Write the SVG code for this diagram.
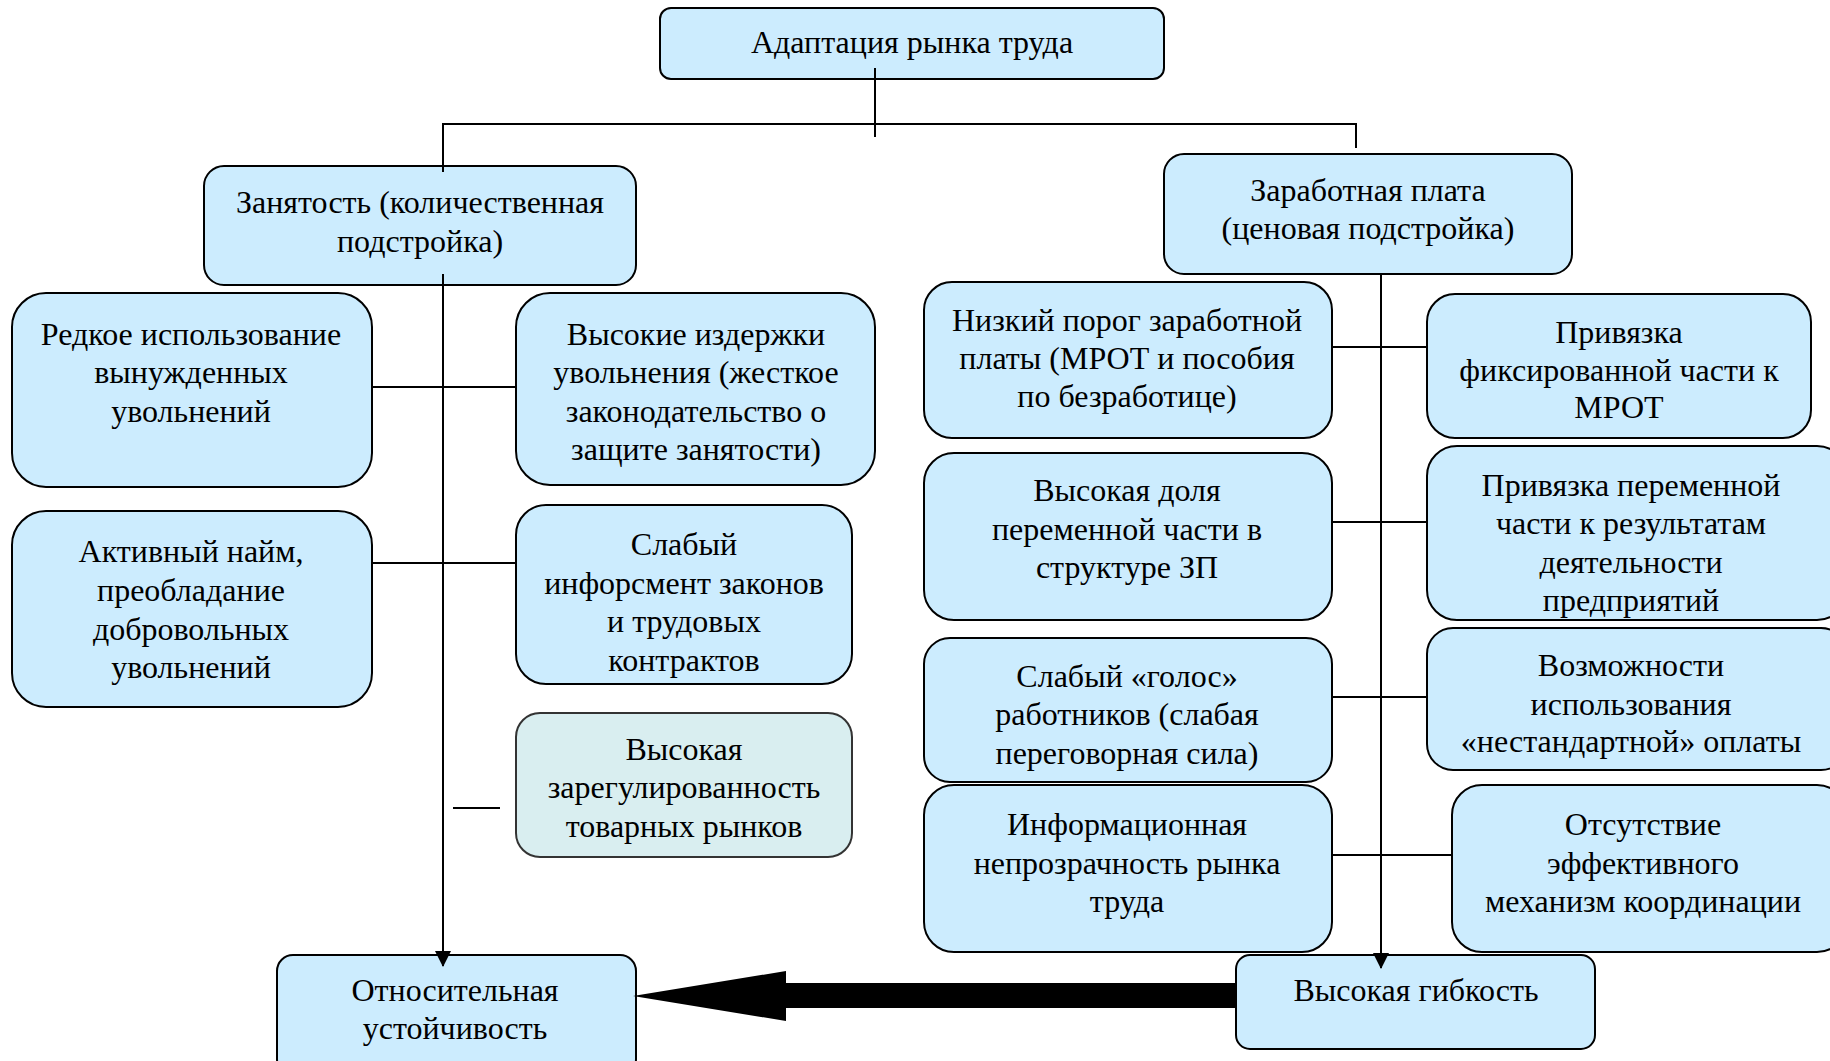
<svg xmlns="http://www.w3.org/2000/svg" width="1830" height="1061" viewBox="0 0 1830 1061">
<style>
.box{fill:#CCECFE;stroke:#000;stroke-width:2}
.box2{fill:#D9EEF0;stroke:#333;stroke-width:2}
text{font-family:"Liberation Serif","Times New Roman",serif;font-size:32px;fill:#000;text-anchor:middle}
.ln{stroke:#000;stroke-width:2;fill:none}
</style>
<defs>
<marker id="ah" viewBox="0 0 16 16" refX="15" refY="8" markerWidth="16" markerHeight="16" markerUnits="userSpaceOnUse" orient="auto">
<path d="M0,0 L16,8 L0,16 Z" fill="#000"/>
</marker>
</defs>
<rect width="1830" height="1061" fill="#fff"/>

<g id="n-top">
<rect class="box" x="660" y="8" width="504" height="71" rx="11"/>
<text x="912" y="53">Адаптация рынка труда</text>
</g>
<g id="n-zan">
<rect class="box" x="204" y="166" width="432" height="119" rx="20"/>
<text x="420" y="213">Занятость (количественная</text>
<text x="420" y="252">подстройка)</text>
</g>
<g id="n-zp">
<rect class="box" x="1164" y="154" width="408" height="120" rx="20"/>
<text x="1368" y="201">Заработная плата</text>
<text x="1368" y="239">(ценовая подстройка)</text>
</g>
<g id="n-redk">
<rect class="box" x="12" y="293" width="360" height="194" rx="34"/>
<text x="191" y="345">Редкое использование</text>
<text x="191" y="383">вынужденных</text>
<text x="191" y="422">увольнений</text>
</g>
<g id="n-izd">
<rect class="box" x="516" y="293" width="359" height="192" rx="34"/>
<text x="696" y="345">Высокие издержки</text>
<text x="696" y="383">увольнения (жесткое</text>
<text x="696" y="422">законодательство о</text>
<text x="696" y="460">защите занятости)</text>
</g>
<g id="n-akt">
<rect class="box" x="12" y="511" width="360" height="196" rx="34"/>
<text x="191" y="562">Активный найм,</text>
<text x="191" y="601">преобладание</text>
<text x="191" y="640">добровольных</text>
<text x="191" y="678">увольнений</text>
</g>
<g id="n-inf">
<rect class="box" x="516" y="505" width="336" height="179" rx="30"/>
<text x="684" y="555">Слабый</text>
<text x="684" y="594">инфорсмент законов</text>
<text x="684" y="632">и трудовых</text>
<text x="684" y="671">контрактов</text>
</g>
<g id="n-zar">
<rect class="box2" x="516" y="713" width="336" height="144" rx="24"/>
<text x="684" y="760">Высокая</text>
<text x="684" y="798">зарегулированность</text>
<text x="684" y="837">товарных рынков</text>
</g>
<g id="n-otn">
<rect class="box" x="277" y="955" width="359" height="120" rx="16"/>
<text x="455" y="1001">Относительная</text>
<text x="455" y="1039">устойчивость</text>
</g>
<g id="n-nizk">
<rect class="box" x="924" y="282" width="408" height="156" rx="28"/>
<text x="1127" y="331">Низкий порог заработной</text>
<text x="1127" y="369">платы (МРОТ и пособия</text>
<text x="1127" y="407">по безработице)</text>
</g>
<g id="n-fix">
<rect class="box" x="1427" y="294" width="384" height="144" rx="28"/>
<text x="1619" y="343">Привязка</text>
<text x="1619" y="381">фиксированной части к</text>
<text x="1619" y="418">МРОТ</text>
</g>
<g id="n-dol">
<rect class="box" x="924" y="453" width="408" height="167" rx="30"/>
<text x="1127" y="501">Высокая доля</text>
<text x="1127" y="540">переменной части в</text>
<text x="1127" y="578">структуре ЗП</text>
</g>
<g id="n-per">
<rect class="box" x="1427" y="446" width="420" height="174" rx="30"/>
<text x="1631" y="496">Привязка переменной</text>
<text x="1631" y="534">части к результатам</text>
<text x="1631" y="573">деятельности</text>
<text x="1631" y="611">предприятий</text>
</g>
<g id="n-gol">
<rect class="box" x="924" y="638" width="408" height="144" rx="26"/>
<text x="1127" y="687">Слабый «голос»</text>
<text x="1127" y="725">работников (слабая</text>
<text x="1127" y="764">переговорная сила)</text>
</g>
<g id="n-voz">
<rect class="box" x="1427" y="628" width="420" height="142" rx="26"/>
<text x="1631" y="676">Возможности</text>
<text x="1631" y="715">использования</text>
<text x="1631" y="752">«нестандартной» оплаты</text>
</g>
<g id="n-infn">
<rect class="box" x="924" y="785" width="408" height="167" rx="30"/>
<text x="1127" y="835">Информационная</text>
<text x="1127" y="874">непрозрачность рынка</text>
<text x="1127" y="912">труда</text>
</g>
<g id="n-ots">
<rect class="box" x="1452" y="785" width="395" height="167" rx="30"/>
<text x="1643" y="835">Отсутствие</text>
<text x="1643" y="874">эффективного</text>
<text x="1643" y="912">механизм координации</text>
</g>
<g id="n-gib">
<rect class="box" x="1236" y="955" width="359" height="94" rx="14"/>
<text x="1416" y="1001">Высокая гибкость</text>
</g>

<g id="connectors">
<path class="ln" d="M875,68 V137"/>
<path class="ln" d="M443,172 V124 H1356 V148" stroke-width="2.5"/>
<path class="ln" d="M443,274 V966" marker-end="url(#ah)"/>
<path class="ln" d="M1381,274 V968" marker-end="url(#ah)"/>
<path class="ln" d="M372,387 H516"/>
<path class="ln" d="M372,563 H516"/>
<path class="ln" d="M453,808 H500"/>
<path class="ln" d="M1332,347 H1427"/>
<path class="ln" d="M1332,522 H1427"/>
<path class="ln" d="M1332,697 H1427"/>
<path class="ln" d="M1332,855 H1452"/>
<polygon points="633,996 786,971 786,983 1236,983 1236,1008 786,1008 786,1021" fill="#000"/>
</g>
</svg>
